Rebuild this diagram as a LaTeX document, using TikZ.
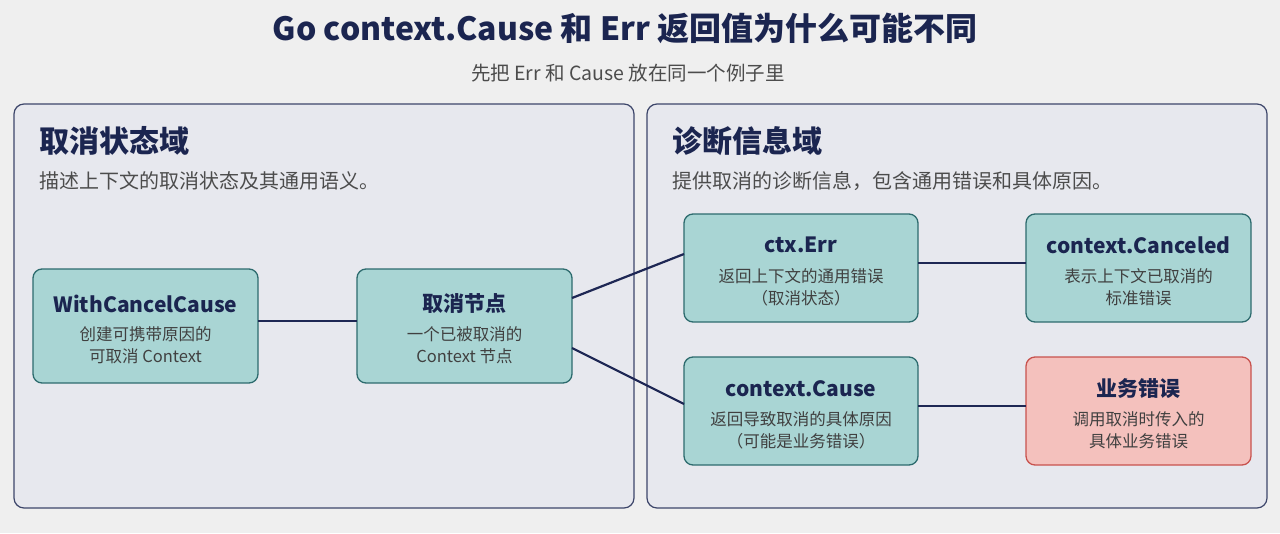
\documentclass[tikz,border=0pt]{standalone}
\usepackage{fontspec}
\setmainfont{Noto Sans CJK SC}
\begin{document}
\begin{tikzpicture}[x=1pt,y=-1pt,
  panel/.style={draw=navy!85, line width=1.2pt, fill=pfill, rounded corners=10pt},
  box/.style={draw=nborder, line width=1.3pt, fill=nfill, rounded corners=9pt},
  rbox/.style={draw=rborder, line width=1.3pt, fill=rfill, rounded corners=9pt},
  link/.style={draw=lnk, line width=2.2pt},
  head/.style={font=\fontsize{21}{25}\selectfont\bfseries, text=navy},
  sub/.style={font=\fontsize{16.5}{22}\selectfont, text=black!75, align=center},
]
\definecolor{bg}{HTML}{EFEFEF}
\definecolor{pfill}{HTML}{E7E8EE}
\definecolor{nfill}{HTML}{A9D5D4}
\definecolor{nborder}{HTML}{2D6B6E}
\definecolor{rfill}{HTML}{F4C1BD}
\definecolor{rborder}{HTML}{C8524E}
\definecolor{lnk}{HTML}{1E2754}
\definecolor{navy}{HTML}{1B2550}
\fill[bg] (0,0) rectangle (1280,533);
\useasboundingbox (0,0) rectangle (1280,533);
\node[font=\fontsize{32}{38}\selectfont\bfseries, text=navy] (title) at (625,28) {Go context.Cause 和 Err 返回值为什么可能不同};
\node[font=\fontsize{19.5}{24}\selectfont, text=black!70] (subt) at (628,73) {先把 Err 和 Cause 放在同一个例子里};
\path[panel] (14,104) rectangle (634,508);
\path[panel] (647,104) rectangle (1267,508);
\node[anchor=west, font=\fontsize{30}{36}\selectfont\bfseries, text=navy] (h1) at (36,141) {取消状态域};
\node[anchor=west, font=\fontsize{20}{24}\selectfont, text=black!70] (d1) at (36,181) {描述上下文的取消状态及其通用语义。};
\node[anchor=west, font=\fontsize{30}{36}\selectfont\bfseries, text=navy] (h2) at (669,141) {诊断信息域};
\node[anchor=west, font=\fontsize{20}{24}\selectfont, text=black!70] (d2) at (669,181) {提供取消的诊断信息，包含通用错误和具体原因。};
% nodes
\path[box] (33,269) rectangle (258,383);
\node[head] (n1) at (145.5,304) {WithCancelCause};
\node[sub] (n1s) at (145.5,345) {创建可携带原因的\\可取消 Context};
\path[box] (357,269) rectangle (572,383);
\node[head] (n2) at (464.5,304) {取消节点};
\node[sub] (n2s) at (464.5,345) {一个已被取消的\\Context 节点};
\path[box] (684,214) rectangle (918,322);
\node[head] (n3) at (801,245) {ctx.Err};
\node[sub] (n3s) at (801,287) {返回上下文的通用错误\\（取消状态）};
\path[box] (1026,214) rectangle (1251,322);
\node[head] (n4) at (1138.5,245) {context.Canceled};
\node[sub] (n4s) at (1138.5,287) {表示上下文已取消的\\标准错误};
\path[box] (684,357) rectangle (918,465);
\node[head] (n5) at (801,389) {context.Cause};
\node[sub] (n5s) at (801,430) {返回导致取消的具体原因\\（可能是业务错误）};
\path[rbox] (1026,357) rectangle (1251,465);
\node[head] (n6) at (1138.5,389) {业务错误};
\node[sub] (n6s) at (1138.5,430) {调用取消时传入的\\具体业务错误};
% anchors
\coordinate (a1) at (258,321); \coordinate (b1) at (357,321);
\coordinate (a2) at (572,298); \coordinate (b2) at (684,254);
\coordinate (a3) at (572,348); \coordinate (b3) at (684,404);
\coordinate (a4) at (918,263); \coordinate (b4) at (1026,263);
\coordinate (a5) at (918,406); \coordinate (b5) at (1026,406);
\draw[link] (a1) -- (b1);
\draw[link] (a2) -- (b2);
\draw[link] (a3) -- (b3);
\draw[link] (a4) -- (b4);
\draw[link] (a5) -- (b5);
\end{tikzpicture}
\end{document}
